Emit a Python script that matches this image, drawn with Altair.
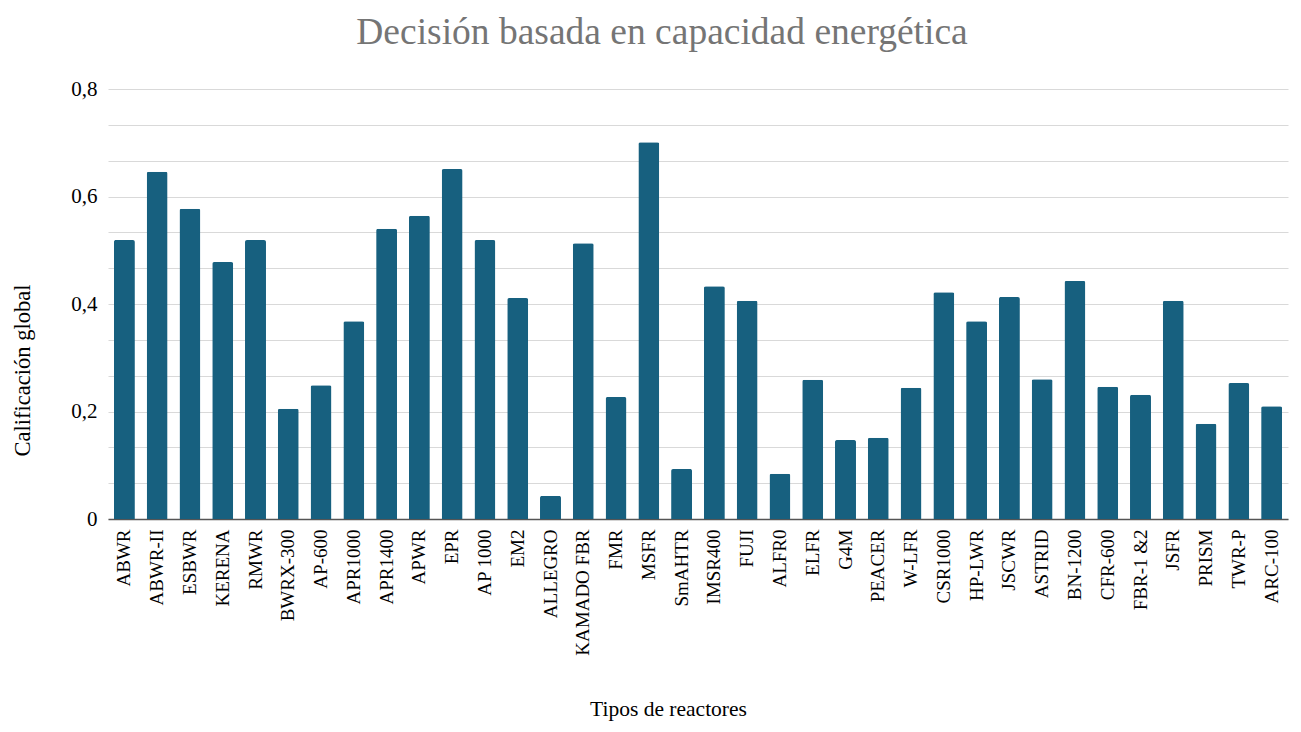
import altair as alt
import pandas as pd

reactores = ["ABWR", "ABWR-II", "ESBWR", "KERENA", "RMWR", "BWRX-300", "AP-600",
             "APR1000", "APR1400", "APWR", "EPR", "AP 1000", "EM2", "ALLEGRO",
             "KAMADO FBR", "FMR", "MSFR", "SmAHTR", "IMSR400", "FUJI", "ALFR0",
             "ELFR", "G4M", "PEACER", "W-LFR", "CSR1000", "HP-LWR", "JSCWR",
             "ASTRID", "BN-1200", "CFR-600", "FBR-1 &2", "JSFR", "PRISM", "TWR-P",
             "ARC-100"]
calificacion = [0.519, 0.646, 0.577, 0.478, 0.519, 0.205, 0.249,
                0.368, 0.540, 0.564, 0.651, 0.519, 0.411, 0.043,
                0.513, 0.227, 0.701, 0.093, 0.433, 0.406, 0.084,
                0.259, 0.147, 0.151, 0.244, 0.422, 0.368, 0.413,
                0.260, 0.443, 0.246, 0.231, 0.406, 0.177, 0.253,
                0.210]
grid_vals = [i / 15 for i in range(13)]

df = pd.DataFrame({"Reactor": reactores, "Calificacion": calificacion})

FONT = "Liberation Serif, Times New Roman, serif"

chart = alt.Chart(df).mark_bar(
    color="#17607F", cornerRadiusTopLeft=2, cornerRadiusTopRight=2
).encode(
    x=alt.X(
        "Reactor:N", sort=reactores, title="Tipos de reactores",
        scale=alt.Scale(paddingInner=0.36, paddingOuter=0.18),
        axis=alt.Axis(
            labelAngle=-90, labelFont=FONT, labelFontSize=19, labelColor="#000",
            labelPadding=10, ticks=False, domainColor="#555", domainWidth=1.5,
            labelOverlap=False, titleFont=FONT, titleFontSize=21.5,
            titleFontWeight="normal", titleColor="#000",
            titleX=560, titleY=196, titleBaseline="alphabetic", titleAlign="center",
        ),
    ),
    y=alt.Y(
        "Calificacion:Q", title="Calificación global",
        scale=alt.Scale(domain=[0, 0.8], nice=False),
        axis=alt.Axis(
            values=grid_vals,
            labelExpr="round(datum.value*15) % 3 == 0 ? replace(format(datum.value, '.1~f'), '.', ',') : ''",
            ticks=False, domain=False, gridColor="#d9d9d9", gridWidth=1.2,
            labelFont=FONT, labelFontSize=21, labelColor="#000", labelPadding=11,
            labelOverlap=False,
            titleFont=FONT, titleFontSize=22.5, titleFontWeight="normal", titleColor="#000",
            titleX=-86, titleY=281, titleAngle=-90, titleAlign="center",
            titleBaseline="middle",
        ),
    ),
).properties(
    width=1180, height=430,
    title=alt.TitleParams(
        "Decisión basada en capacidad energética", font=FONT, fontSize=37.5,
        fontWeight="normal", color="#757575", anchor="middle", dx=-36, offset=27,
    ),
    autosize=alt.AutoSizeParams(type="none"),
    padding={"left": 100, "top": 81, "right": 2, "bottom": 204},
).configure(font=FONT).configure_view(stroke=None)

chart.save("out.html", embed_options={"renderer": "svg", "actions": False})
